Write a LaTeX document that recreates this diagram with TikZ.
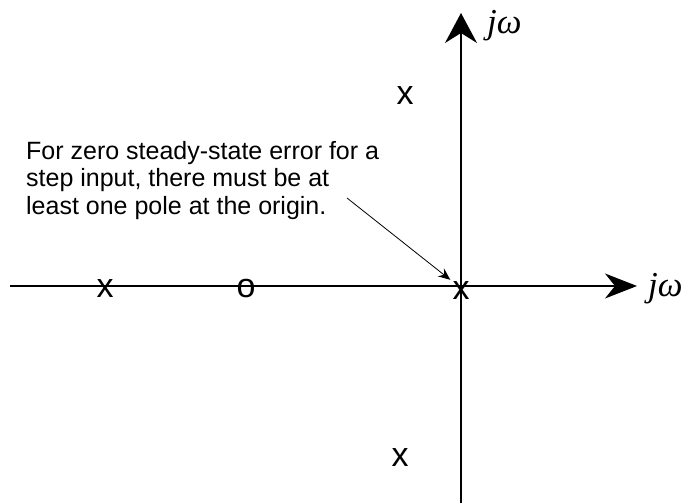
\documentclass[tikz,border=0pt]{standalone}
\usepackage{fontspec}
\setmainfont{Liberation Sans}
\newfontfamily\jwfont{Liberation Serif}
\usetikzlibrary{arrows.meta}

\begin{document}
\begin{tikzpicture}[x=1pt, y=-1pt,
        polezero/.style={font=\fontsize{34}{34}\selectfont, inner sep=2pt},
        axislabel/.style={font=\fontsize{35}{35}\selectfont\jwfont\itshape, inner sep=0pt, anchor=base west}]
        \useasboundingbox (0,0) rectangle (686,503);

        % Real and imaginary axes
        \coordinate (W) at (10,286);
        \coordinate (E) at (637,286);
        \coordinate (S) at (461,503);
        \coordinate (N) at (461,13);
        \draw[line width=1.2pt, -{Stealth[length=32pt, width=25pt, inset=10pt]}] (W) -- (E);
        \draw[line width=1.2pt, -{Stealth[length=30pt, width=32pt, inset=10pt]}] (S) -- (N);
        \node[axislabel] (jwE) at (648,296) {jω};
        \node[axislabel] (jwN) at (487,34) {jω};

        % Poles and zero
        \node[polezero] (P1) at (405,96) {x};
        \node[polezero] (P2) at (400,458) {x};
        \node[polezero] (P3) at (105,289) {x};
        \node[polezero] (Z1) at (246,289) {o};
        \node[polezero] (P0) at (461,291) {x};

        % Note pointing at the pole at the origin
        \node[anchor=north west, inner sep=0pt, align=left, font=\fontsize{25}{27.5}\selectfont] (note) at (26,141)
            {For zero steady-state error for a\\ step input, there must be at\\ least one pole at the origin.};
        \coordinate (noteend) at (347,198);
        \draw[line width=0.8pt, -{Stealth[length=12pt, width=10pt, inset=4pt]}] (noteend) -- (P0.north west);
\end{tikzpicture}
\end{document}
